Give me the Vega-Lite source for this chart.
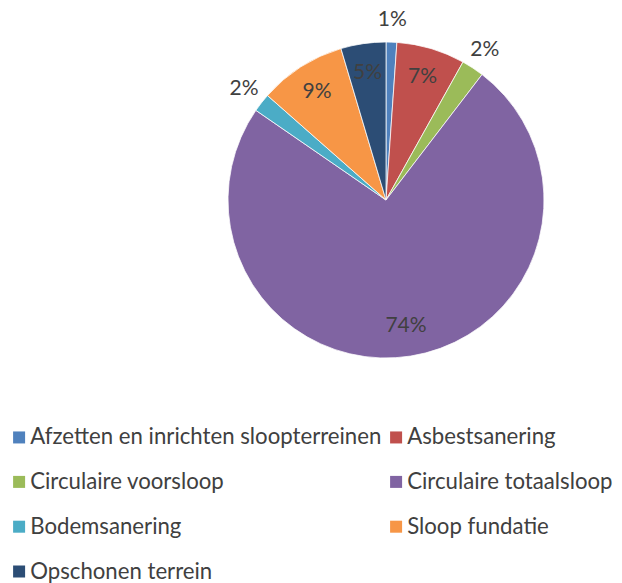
{
  "$schema": "https://vega.github.io/schema/vega-lite/v6.json",
  "width": 472,
  "height": 400,
  "padding": {"left": 150, "top": 0, "right": 0, "bottom": 183},
  "autosize": {"type": "none"},
  "background": "white",
  "config": {"view": {"stroke": null}, "font": "Lato"},
  "data": {
    "values": [
      {"k": "Afzetten en inrichten sloopterreinen", "v": 0.011, "o": 1},
      {"k": "Asbestsanering", "v": 0.070, "o": 2},
      {"k": "Circulaire voorsloop", "v": 0.023, "o": 3},
      {"k": "Circulaire totaalsloop", "v": 0.742, "o": 4},
      {"k": "Bodemsanering", "v": 0.019, "o": 5},
      {"k": "Sloop fundatie", "v": 0.089, "o": 6},
      {"k": "Opschonen terrein", "v": 0.046, "o": 7}
    ]
  },
  "encoding": {
    "theta": {"field": "v", "type": "quantitative", "stack": true},
    "order": {"field": "o", "type": "quantitative"},
    "color": {
      "field": "k",
      "type": "nominal",
      "scale": {
        "domain": ["Afzetten en inrichten sloopterreinen", "Asbestsanering", "Circulaire voorsloop", "Circulaire totaalsloop", "Bodemsanering", "Sloop fundatie", "Opschonen terrein"],
        "range": ["#4F81BD", "#C0504D", "#9BBB59", "#8064A2", "#4BACC6", "#F79646", "#2C4D75"]
      },
      "legend": {
        "title": null,
        "orient": "none",
        "legendX": -142,
        "legendY": 426,
        "columns": 2,
        "direction": "horizontal",
        "symbolType": "square",
        "symbolSize": 144,
        "symbolStrokeWidth": 0,
        "labelFontSize": 22.2,
        "labelFont": "Lato",
        "labelColor": "#404040",
        "labelOffset": 0,
        "labelLimit": 420,
        "rowPadding": 21.8,
        "columnPadding": 3,
        "padding": 0
      }
    }
  },
  "layer": [
    {"mark": {"type": "arc", "outerRadius": 158, "stroke": "white", "strokeWidth": 0.75}},
    {
      "mark": {"type": "text", "radius": 128, "fontSize": 21, "font": "Lato", "color": "#404040"},
      "encoding": {
        "text": {
          "condition": {"test": "datum.o == 2 || datum.o == 4 || datum.o == 6 || datum.o == 7", "field": "v", "format": ".0%"},
          "value": ""
        },
        "color": {"value": "#404040"}
      }
    },
    {
      "mark": {"type": "text", "radius": 180, "fontSize": 21, "font": "Lato", "color": "#404040"},
      "encoding": {
        "text": {
          "condition": {"test": "datum.o == 1 || datum.o == 3 || datum.o == 5", "field": "v", "format": ".0%"},
          "value": ""
        },
        "color": {"value": "#404040"}
      }
    }
  ]
}
